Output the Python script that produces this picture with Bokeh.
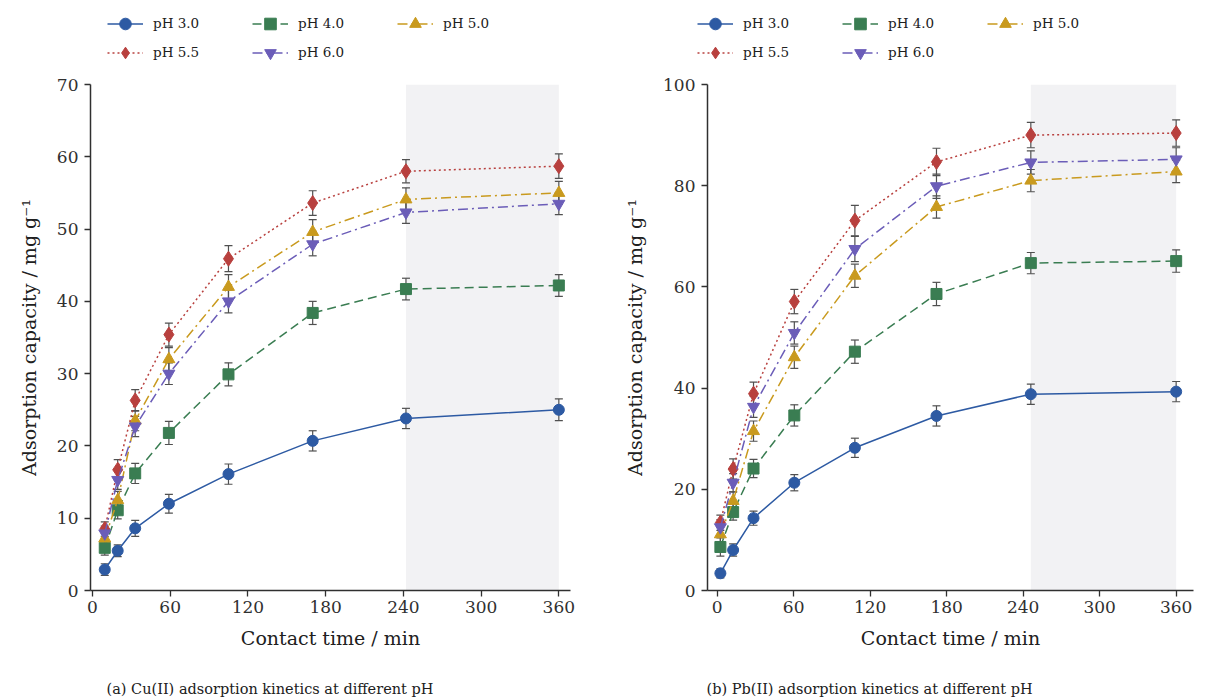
from bokeh.plotting import figure
from bokeh.models import (Range1d, FixedTicker, BoxAnnotation, Whisker, ColumnDataSource,
                          Legend, LegendItem, Label, TeeHead)
from bokeh.layouts import row, column
from bokeh.embed import file_html
from bokeh.resources import INLINE

# ---------------- data ----------------
series_labels = ["pH 3.0", "pH 4.0", "pH 5.0", "pH 5.5", "pH 6.0"]
x_ticks = [0, 60, 120, 180, 240, 300, 360]
cu_y_ticks = [0, 10, 20, 30, 40, 50, 60, 70]
pb_y_ticks = [0, 20, 40, 60, 80, 100]

# (a) Cu(II)
t_cu = [9.5, 19.5, 33, 59, 105, 170, 242, 360]
cu_ph30 = [2.9, 5.5, 8.6, 12.0, 16.1, 20.7, 23.8, 25.0]
cu_ph40 = [5.9, 11.1, 16.2, 21.8, 29.9, 38.4, 41.7, 42.2]
cu_ph50 = [7.2, 12.5, 23.5, 32.0, 42.0, 49.6, 54.1, 55.0]
cu_ph55 = [8.5, 16.7, 26.3, 35.4, 45.9, 53.6, 58.0, 58.7]
cu_ph60 = [7.9, 15.3, 22.7, 30.0, 40.0, 47.9, 52.3, 53.5]
cu_err30 = [0.8, 0.8, 1.1, 1.3, 1.4, 1.4, 1.4, 1.5]
cu_err40 = [1.0, 1.2, 1.4, 1.6, 1.6, 1.6, 1.5, 1.5]
cu_err50 = [1.0, 1.2, 1.4, 1.6, 1.7, 1.7, 1.6, 1.6]
cu_err55 = [1.0, 1.4, 1.5, 1.6, 1.8, 1.7, 1.6, 1.7]
cu_err60 = [1.0, 1.3, 1.4, 1.5, 1.6, 1.6, 1.5, 1.5]

# (b) Pb(II)
t_pb = [2.5, 12.5, 28.5, 60.5, 108, 172, 246, 360]
pb_ph30 = [3.4, 8.0, 14.3, 21.3, 28.2, 34.5, 38.8, 39.3]
pb_ph40 = [8.6, 15.5, 24.1, 34.6, 47.2, 58.6, 64.7, 65.1]
pb_ph50 = [11.1, 17.7, 31.5, 46.1, 62.2, 75.8, 81.0, 82.8]
pb_ph55 = [13.4, 24.0, 38.9, 57.1, 73.1, 84.7, 90.0, 90.4]
pb_ph60 = [12.5, 21.3, 36.3, 50.9, 67.5, 79.9, 84.6, 85.2]
pb_err30 = [0.9, 1.2, 1.4, 1.6, 1.9, 2.0, 2.0, 2.0]
pb_err40 = [1.8, 1.6, 1.8, 2.1, 2.3, 2.3, 2.1, 2.2]
pb_err50 = [1.5, 1.8, 2.0, 2.2, 2.3, 2.2, 2.2, 2.2]
pb_err55 = [1.5, 2.0, 2.3, 2.4, 3.0, 2.7, 2.5, 2.6]
pb_err60 = [1.5, 1.8, 2.1, 2.2, 2.5, 2.4, 2.3, 2.3]

captions = ["(a) Cu(II) adsorption kinetics at different pH",
            "(b) Pb(II) adsorption kinetics at different pH"]
x_label = "Contact time / min"
y_label = "Adsorption capacity / mg g\u207b\u00b9"

# ---------------- styles ----------------
colors = ["#2d5aa3", "#3a7d52", "#c99a1e", "#b8403e", "#6b5db8"]
dashes = ["solid", "9 5", "10 4 2 4", "2 3", "10 4 2 4"]
markers = ["circle", "square", "triangle", "diamond", "inverted_triangle"]
msizes = [11, 11, 12, 15, 12]
legend_order = [0, 3, 1, 4, 2]   # column-major fill -> rows: 3.0 4.0 5.0 / 5.5 6.0
FONT = "DejaVu Serif"
LEG_H = 70
CAP_H = 40
TOTAL_H = 699
FRAME_TOP = 84
FRAME_BOTTOM = 590


def make_sources(t, ys, errs):
    out = []
    for y, e in zip(ys, errs):
        out.append(ColumnDataSource(dict(x=t, y=y,
                                         lo=[a - b for a, b in zip(y, e)],
                                         hi=[a + b for a, b in zip(y, e)])))
    return out


def draw_series(p, src, i):
    lr = p.line("x", "y", source=src, line_color=colors[i], line_width=1.5,
                line_dash=dashes[i])
    mr = p.scatter("x", "y", source=src, marker=markers[i], size=msizes[i],
                   fill_color=colors[i], line_color=colors[i])
    return lr, mr


def bare_fig(width, height):
    f = figure(width=width, height=height, x_range=Range1d(-1000, -999), y_range=Range1d(0, 1),
               output_backend="svg", toolbar_location=None,
               x_axis_location=None, y_axis_location=None,
               min_border=0, min_border_left=0, min_border_right=0,
               min_border_top=0, min_border_bottom=0)
    f.outline_line_color = None
    f.grid.visible = False
    f.frame_align = False
    return f


def make_legend_fig(width, srcs, leg_x, leg_y):
    lf = bare_fig(width, LEG_H)
    rends = [draw_series(lf, srcs[i], i) for i in range(5)]
    items = [LegendItem(label=series_labels[i], renderers=list(rends[i])) for i in legend_order]
    leg = Legend(items=items, ncols=3, location=(leg_x, leg_y), glyph_width=36, glyph_height=29,
                 label_standoff=10, label_width=99, spacing=0, padding=6, margin=0,
                 label_text_font=FONT, label_text_font_size="13.5px",
                 label_text_color="#202020", border_line_color=None,
                 background_fill_alpha=0)
    lf.add_layout(leg, "center")
    return lf


def make_caption_fig(width, text):
    cf = bare_fig(width, CAP_H)
    cf.add_layout(Label(x=106, y=11, x_units="screen", y_units="screen", text=text,
                        text_baseline="middle", text_align="left", text_font=FONT,
                        text_font_size="14.5px", text_color="#202020"))
    return cf


def make_plot(srcs, xr, yr, yticks, shade_from, width, bl, br):
    h = TOTAL_H - LEG_H - CAP_H
    p = figure(width=width, height=h, x_range=Range1d(*xr), y_range=Range1d(*yr),
               output_backend="svg", toolbar_location=None,
               min_border_left=bl, min_border_right=br,
               min_border_top=FRAME_TOP - LEG_H,
               min_border_bottom=(TOTAL_H - CAP_H) - FRAME_BOTTOM)
    p.frame_align = False
    p.outline_line_color = None
    p.grid.visible = False

    p.add_layout(BoxAnnotation(left=shade_from, right=360, fill_color="#f2f2f4",
                               fill_alpha=1.0, line_color=None, level="underlay"))
    for i, src in enumerate(srcs):
        p.add_layout(Whisker(base="x", upper="hi", lower="lo", source=src,
                             line_color="#505050", line_width=1.2,
                             upper_head=TeeHead(size=8, line_color="#505050", line_width=1.2),
                             lower_head=TeeHead(size=8, line_color="#505050", line_width=1.2)))
    for i, src in enumerate(srcs):
        draw_series(p, src, i)

    for ax in (p.xaxis[0], p.yaxis[0]):
        ax.axis_line_color = "#303030"
        ax.axis_line_width = 1.5
        ax.major_tick_line_color = "#303030"
        ax.major_tick_line_width = 1.3
        ax.major_tick_out = 6
        ax.major_tick_in = 0
        ax.minor_tick_line_color = None
        ax.major_label_text_font = FONT
        ax.major_label_text_font_size = "17px"
        ax.major_label_text_color = "#303030"
        ax.axis_label_text_font = FONT
        ax.axis_label_text_font_size = "19px"
        ax.axis_label_text_font_style = "normal"
        ax.axis_label_text_color = "#202020"
    p.xaxis.ticker = FixedTicker(ticks=x_ticks)
    p.yaxis.ticker = FixedTicker(ticks=yticks)
    p.xaxis.axis_label = x_label
    p.yaxis.axis_label = y_label
    p.xaxis.major_label_standoff = 4
    p.yaxis.major_label_standoff = 6
    p.xaxis.axis_label_standoff = 11
    p.yaxis.axis_label_standoff = 14
    return p


cu_src = make_sources(t_cu, [cu_ph30, cu_ph40, cu_ph50, cu_ph55, cu_ph60],
                      [cu_err30, cu_err40, cu_err50, cu_err55, cu_err60])
pb_src = make_sources(t_pb, [pb_ph30, pb_ph40, pb_ph50, pb_ph55, pb_ph60],
                      [pb_err30, pb_err40, pb_err50, pb_err55, pb_err60])

p1 = make_plot(cu_src, (-1.5, 369), (0, 70), cu_y_ticks, t_cu[6], 600, 90, 30)
p2 = make_plot(pb_src, (-7.6, 373.6), (0, 100), pb_y_ticks, t_pb[6], 606, 107, 13)
l1 = make_legend_fig(600, cu_src, 107, 3.5)
l2 = make_legend_fig(606, pb_src, 97, 3.5)
c1 = make_caption_fig(600, captions[0])
c2 = make_caption_fig(606, captions[1])

layout = row(column(l1, p1, c1), column(l2, p2, c2))
open("out.html", "w").write(file_html(layout, INLINE))
